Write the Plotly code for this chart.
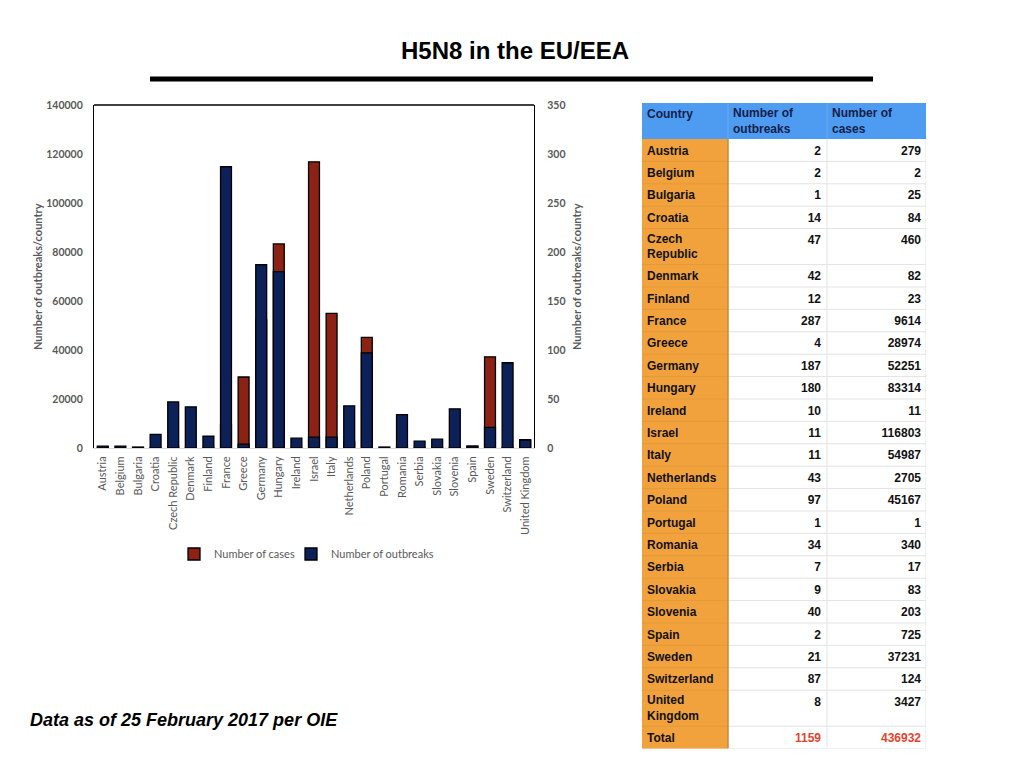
import plotly.graph_objects as go

countries = ["Austria", "Belgium", "Bulgaria", "Croatia", "Czech Republic", "Denmark",
             "Finland", "France", "Greece", "Germany", "Hungary", "Ireland", "Israel",
             "Italy", "Netherlands", "Poland", "Portugal", "Romania", "Serbia", "Slovakia",
             "Slovenia", "Spain", "Sweden", "Switzerland", "United Kingdom"]
outbreaks = [2, 2, 1, 14, 47, 42, 12, 287, 4, 187, 180, 10, 11, 11, 43, 97, 1, 34, 7, 9,
             40, 2, 21, 87, 8]
cases = [279, 2, 25, 84, 460, 82, 23, 9614, 28974, 52251, 83314, 11, 116803, 54987, 2705,
         45167, 1, 340, 17, 83, 203, 725, 37231, 124, 3427]
table_header = ["Country", "Number of<br>outbreaks", "Number of<br>cases"]
total_label = "Total"
total_outbreaks = 1159
total_cases = 436932

W, H = 1024, 768
OFF = 8  # page body margin


def PX(p):
    return (p - OFF) / W


def PY(p):
    return 1 - (p - OFF) / H


RED = "#8b2214"
NAVY = "#0d2159"
TICK = "#595959"
TFONT = "Lato"

fig = go.Figure()
fig.add_trace(go.Bar(x=countries, y=cases, name="Number of cases", yaxis="y", legend="legend",
                     marker=dict(color=RED, line=dict(color="#000000", width=1.3))))
fig.add_trace(go.Bar(x=countries, y=outbreaks, name="Number of outbreaks", yaxis="y2",
                     legend="legend2",
                     marker=dict(color=NAVY, line=dict(color="#000000", width=1.3))))

# ---------------- table (drawn on its own hidden axes, in pixel units) ----------------
TX0, TX1, TY0 = 642, 926, 103
col_edges = [0, 86, 185, 284]
HDR_H, ROW_H, ROW2_H = 36, 22.4, 36
rows_country = countries + [total_label]
rows_out = [str(v) for v in outbreaks] + [str(total_outbreaks)]
rows_cases = [str(v) for v in cases] + [str(total_cases)]
row_label = [c.replace(" ", "<br>") if len(c) > 12 else c for c in rows_country]
heights = [ROW2_H if "<br>" in lab else ROW_H for lab in row_label]
tops = []
y = HDR_H
for h in heights:
    tops.append(y)
    y += h
TBL_H = y
n = len(rows_country)

shapes = []
shapes.append(dict(type="rect", xref="x3", yref="y3", x0=0, x1=col_edges[-1], y0=0, y1=HDR_H,
                   fillcolor="#4d9cf2", line=dict(width=0), layer="below"))
shapes.append(dict(type="rect", xref="x3", yref="y3", x0=0, x1=col_edges[1], y0=HDR_H, y1=TBL_H,
                   fillcolor="#f2a23c", line=dict(width=0), layer="below"))
shapes.append(dict(type="rect", xref="x3", yref="y3", x0=col_edges[1], x1=col_edges[-1], y0=HDR_H,
                   y1=TBL_H, fillcolor="#ffffff", line=dict(width=0), layer="below"))
for t in tops[1:] + [TBL_H]:
    shapes.append(dict(type="line", xref="x3", yref="y3", x0=0, x1=col_edges[1], y0=t, y1=t,
                       line=dict(color="#e39a3a", width=1), layer="below"))
    shapes.append(dict(type="line", xref="x3", yref="y3", x0=col_edges[1], x1=col_edges[-1], y0=t,
                       y1=t, line=dict(color="#e3e3e3", width=1), layer="below"))
shapes.append(dict(type="line", xref="x3", yref="y3", x0=col_edges[1], x1=col_edges[1], y0=HDR_H,
                   y1=TBL_H, line=dict(color="#c98a3a", width=1.5), layer="below"))
for ce in col_edges[2:]:
    shapes.append(dict(type="line", xref="x3", yref="y3", x0=ce, x1=ce, y0=HDR_H,
                       y1=TBL_H, line=dict(color="#e3e3e3", width=1), layer="below"))
for ce in col_edges[1:3]:
    shapes.append(dict(type="line", xref="x3", yref="y3", x0=ce, x1=ce, y0=0,
                       y1=HDR_H, line=dict(color="#6aaaf0", width=1), layer="below"))

PAD = 5
TOFF = 12.6
tf = dict(family="Liberation Sans", size=12, weight="bold")
hdr_y = [12 if "<br>" not in h else 19 for h in table_header]
fig.add_trace(go.Scatter(x=[col_edges[i] + PAD for i in range(3)], y=hdr_y, text=table_header,
                         mode="text", textposition="middle right",
                         textfont=dict(tf, color="#13204a"), xaxis="x3", yaxis="y3",
                         showlegend=False, hoverinfo="skip"))
cy = [t + h / 2 + 1 if h > ROW_H else t + TOFF for t, h in zip(tops, heights)]
fig.add_trace(go.Scatter(x=[PAD] * n, y=cy, text=row_label, mode="text",
                         textposition="middle right", textfont=dict(tf, color="#111111"),
                         xaxis="x3", yaxis="y3", showlegend=False, hoverinfo="skip"))
ny = [t + TOFF for t in tops]
num_colors = ["#111111"] * (n - 1) + ["#e4442e"]
fig.add_trace(go.Scatter(x=[col_edges[2] - PAD - 1] * n, y=ny, text=rows_out, mode="text",
                         textposition="middle left", textfont=dict(tf, color=num_colors),
                         xaxis="x3", yaxis="y3", showlegend=False, hoverinfo="skip"))
fig.add_trace(go.Scatter(x=[col_edges[3] - PAD] * n, y=ny, text=rows_cases, mode="text",
                         textposition="middle left", textfont=dict(tf, color=num_colors),
                         xaxis="x3", yaxis="y3", showlegend=False, hoverinfo="skip"))

shapes.append(dict(type="line", xref="paper", yref="paper", x0=PX(94), x1=PX(534),
                   y0=PY(105), y1=PY(105), line=dict(color="#000000", width=1.3)))
shapes.append(dict(type="line", xref="paper", yref="paper", x0=PX(150), x1=PX(873),
                   y0=PY(79), y1=PY(79), line=dict(color="#000000", width=5)))

legend_common = dict(orientation="h", xanchor="left", yanchor="middle",
                     font=dict(family=TFONT, size=11, color=TICK), itemwidth=30,
                     bgcolor="rgba(0,0,0,0)")

fig.update_layout(
    width=W, height=H, autosize=False,
    margin=dict(l=0, r=0, t=0, b=0, pad=0),
    paper_bgcolor="white", plot_bgcolor="rgba(0,0,0,0)",
    barmode="overlay", bargap=0.38,
    showlegend=True,
    legend=dict(legend_common, x=PX(174), y=PY(554)),
    legend2=dict(legend_common, x=PX(291), y=PY(554)),
    xaxis=dict(domain=[PX(94), PX(534)], tickangle=-90, showline=True, linecolor="#d9d9d9",
               linewidth=1, tickfont=dict(family=TFONT, size=11, color=TICK), automargin=False,
               ticks="outside", ticklen=3, tickcolor="rgba(0,0,0,0)", showgrid=False),
    yaxis=dict(domain=[PY(448), PY(105)], range=[0, 140000], dtick=20000,
               tickformat="d", showline=True, linecolor="#000000", linewidth=1.3,
               showgrid=False, zeroline=False, automargin=False,
               ticks="outside", ticklen=8, tickcolor="rgba(0,0,0,0)",
               tickfont=dict(family=TFONT, size=10.5, color=TICK, weight="bold")),
    yaxis2=dict(overlaying="y", side="right", anchor="x", range=[0, 350], dtick=50,
                tickformat="d", showline=True, linecolor="#000000", linewidth=1.3,
                showgrid=False, zeroline=False, automargin=False,
                ticks="outside", ticklen=10, tickcolor="rgba(0,0,0,0)",
                tickfont=dict(family=TFONT, size=10.5, color=TICK, weight="bold")),
    xaxis3=dict(domain=[PX(TX0), PX(TX1)], range=[0, TX1 - TX0], visible=False, anchor="y3",
                fixedrange=True, automargin=False),
    yaxis3=dict(domain=[PY(TY0 + TBL_H), PY(TY0)], range=[TBL_H, 0], visible=False,
                anchor="x3", fixedrange=True, automargin=False),
    shapes=shapes,
    annotations=[
        dict(text="<b>H5N8 in the EU/EEA</b>", x=PX(515), y=PY(50), xref="paper", yref="paper",
             showarrow=False, xanchor="center", yanchor="middle",
             font=dict(family="Liberation Sans", size=24, color="#000000")),
        dict(text="<b><i>Data as of 25 February 2017 per OIE</i></b>", x=PX(28), y=PY(720),
             xref="paper", yref="paper", showarrow=False, xanchor="left", yanchor="middle",
             font=dict(family="Liberation Sans", size=18, color="#000000")),
        dict(text="Number of outbreaks/country", x=PX(37), y=PY(277), xref="paper",
             yref="paper", showarrow=False, textangle=-90, xanchor="center", yanchor="middle",
             font=dict(family=TFONT, size=11, color=TICK, weight="bold")),
        dict(text="Number of outbreaks/country", x=PX(576), y=PY(277), xref="paper",
             yref="paper", showarrow=False, textangle=-90, xanchor="center", yanchor="middle",
             font=dict(family=TFONT, size=11, color=TICK, weight="bold")),
    ],
)

fig.write_html("out.html")
